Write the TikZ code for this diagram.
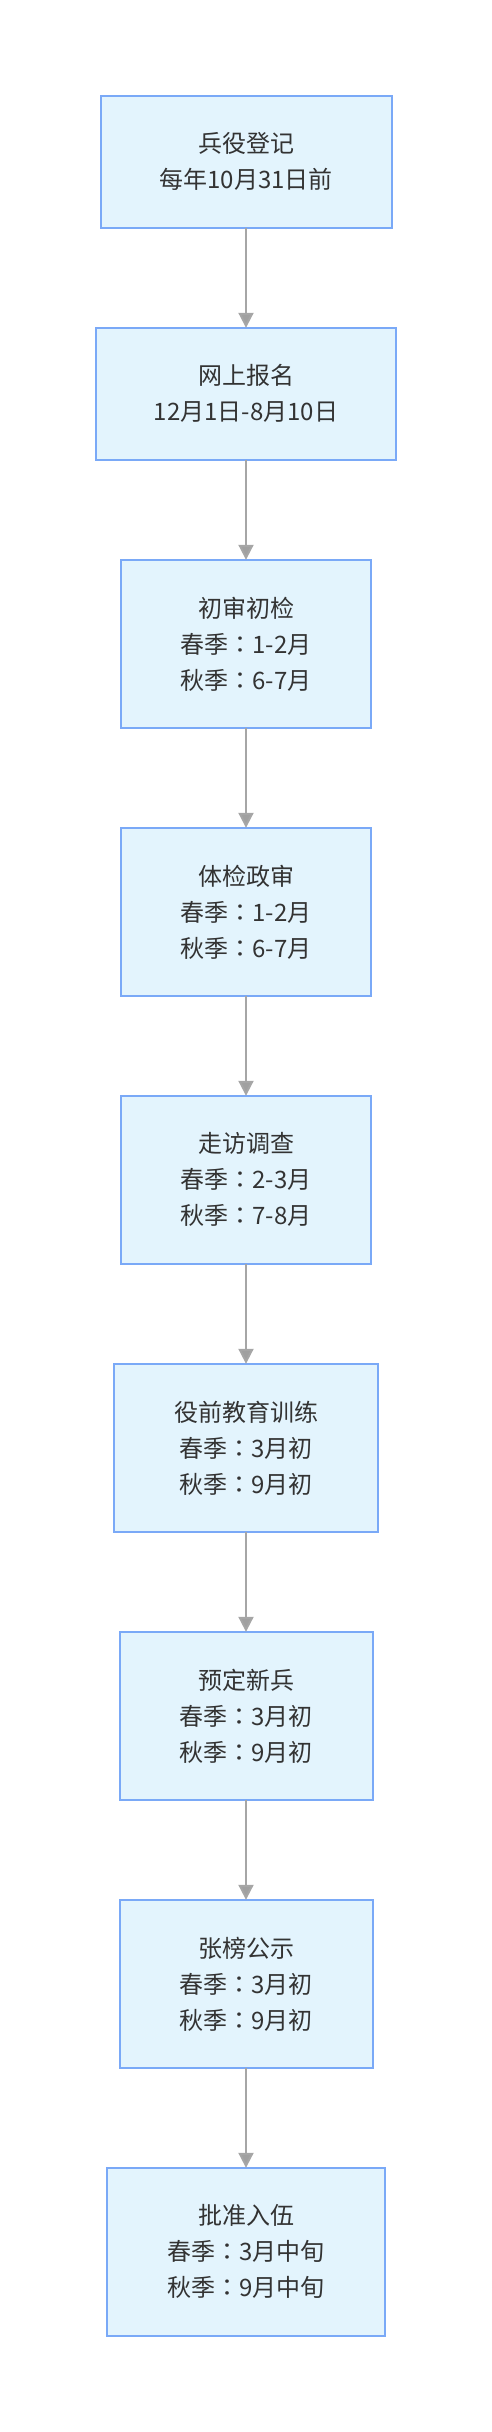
\documentclass[tikz,border=0pt]{standalone}
\usepackage{fontspec}
\newfontfamily\cjk{Noto Sans CJK SC}
\newfontfamily\cjktc{Noto Sans CJK TC}
\newcommand{\colonmark}{{\cjktc ：}}
\usepackage{tikz}
\usetikzlibrary{positioning, arrows.meta}
\definecolor{boxfill}{HTML}{E3F4FD}
\definecolor{boxline}{HTML}{7AA9F7}
\definecolor{textgray}{HTML}{333333}
\definecolor{linegray}{HTML}{A6A6A6}
\tikzset{
->, % every edge is directed
>={Triangle[width=7.5pt,length=7.5pt,fill=linegray!90!black!90]}, % grey triangle heads
node distance=50pt, % gap between two boxes
every edge/.style={draw=linegray, line width=1pt}, % the connectors
stage/.style={rectangle, draw=boxline, line width=1pt, fill=boxfill,
  text=textgray, font=\cjk\fontsize{12pt}{18pt}\selectfont,
  align=center, inner xsep=0pt, inner ysep=0pt, outer sep=0pt}, % the boxes
twoline/.style={stage, minimum height=66pt}, % boxes with two lines
threeline/.style={stage, minimum height=84pt}, % boxes with three lines
}

\begin{document}
\begin{tikzpicture}
            \useasboundingbox (0,0) rectangle (246pt,-1216pt);
            \node[twoline, minimum width=145.5pt] (s1) at (123pt,-80.9pt) {兵役登记\\每年10月31日前};
            \node[twoline, below=of s1, minimum width=150pt] (s2) {网上报名\\12月1日-8月10日};
            \node[threeline, below=of s2, minimum width=125pt] (s3) {初审初检\\春季\colonmark 1-2月\\秋季\colonmark 6-7月};
            \node[threeline, below=of s3, minimum width=125pt] (s4) {体检政审\\春季\colonmark 1-2月\\秋季\colonmark 6-7月};
            \node[threeline, below=of s4, minimum width=125pt] (s5) {走访调查\\春季\colonmark 2-3月\\秋季\colonmark 7-8月};
            \node[threeline, below=of s5, minimum width=132pt] (s6) {役前教育训练\\春季\colonmark 3月初\\秋季\colonmark 9月初};
            \node[threeline, below=of s6, minimum width=126.5pt] (s7) {预定新兵\\春季\colonmark 3月初\\秋季\colonmark 9月初};
            \node[threeline, below=of s7, minimum width=126.5pt] (s8) {张榜公示\\春季\colonmark 3月初\\秋季\colonmark 9月初};
            \node[threeline, below=of s8, minimum width=139pt] (s9) {批准入伍\\春季\colonmark 3月中旬\\秋季\colonmark 9月中旬};
            \draw
                (s1) edge (s2)
                (s2) edge (s3)
                (s3) edge (s4)
                (s4) edge (s5)
                (s5) edge (s6)
                (s6) edge (s7)
                (s7) edge (s8)
                (s8) edge (s9)
                ;
            \end{tikzpicture}
\end{document}
